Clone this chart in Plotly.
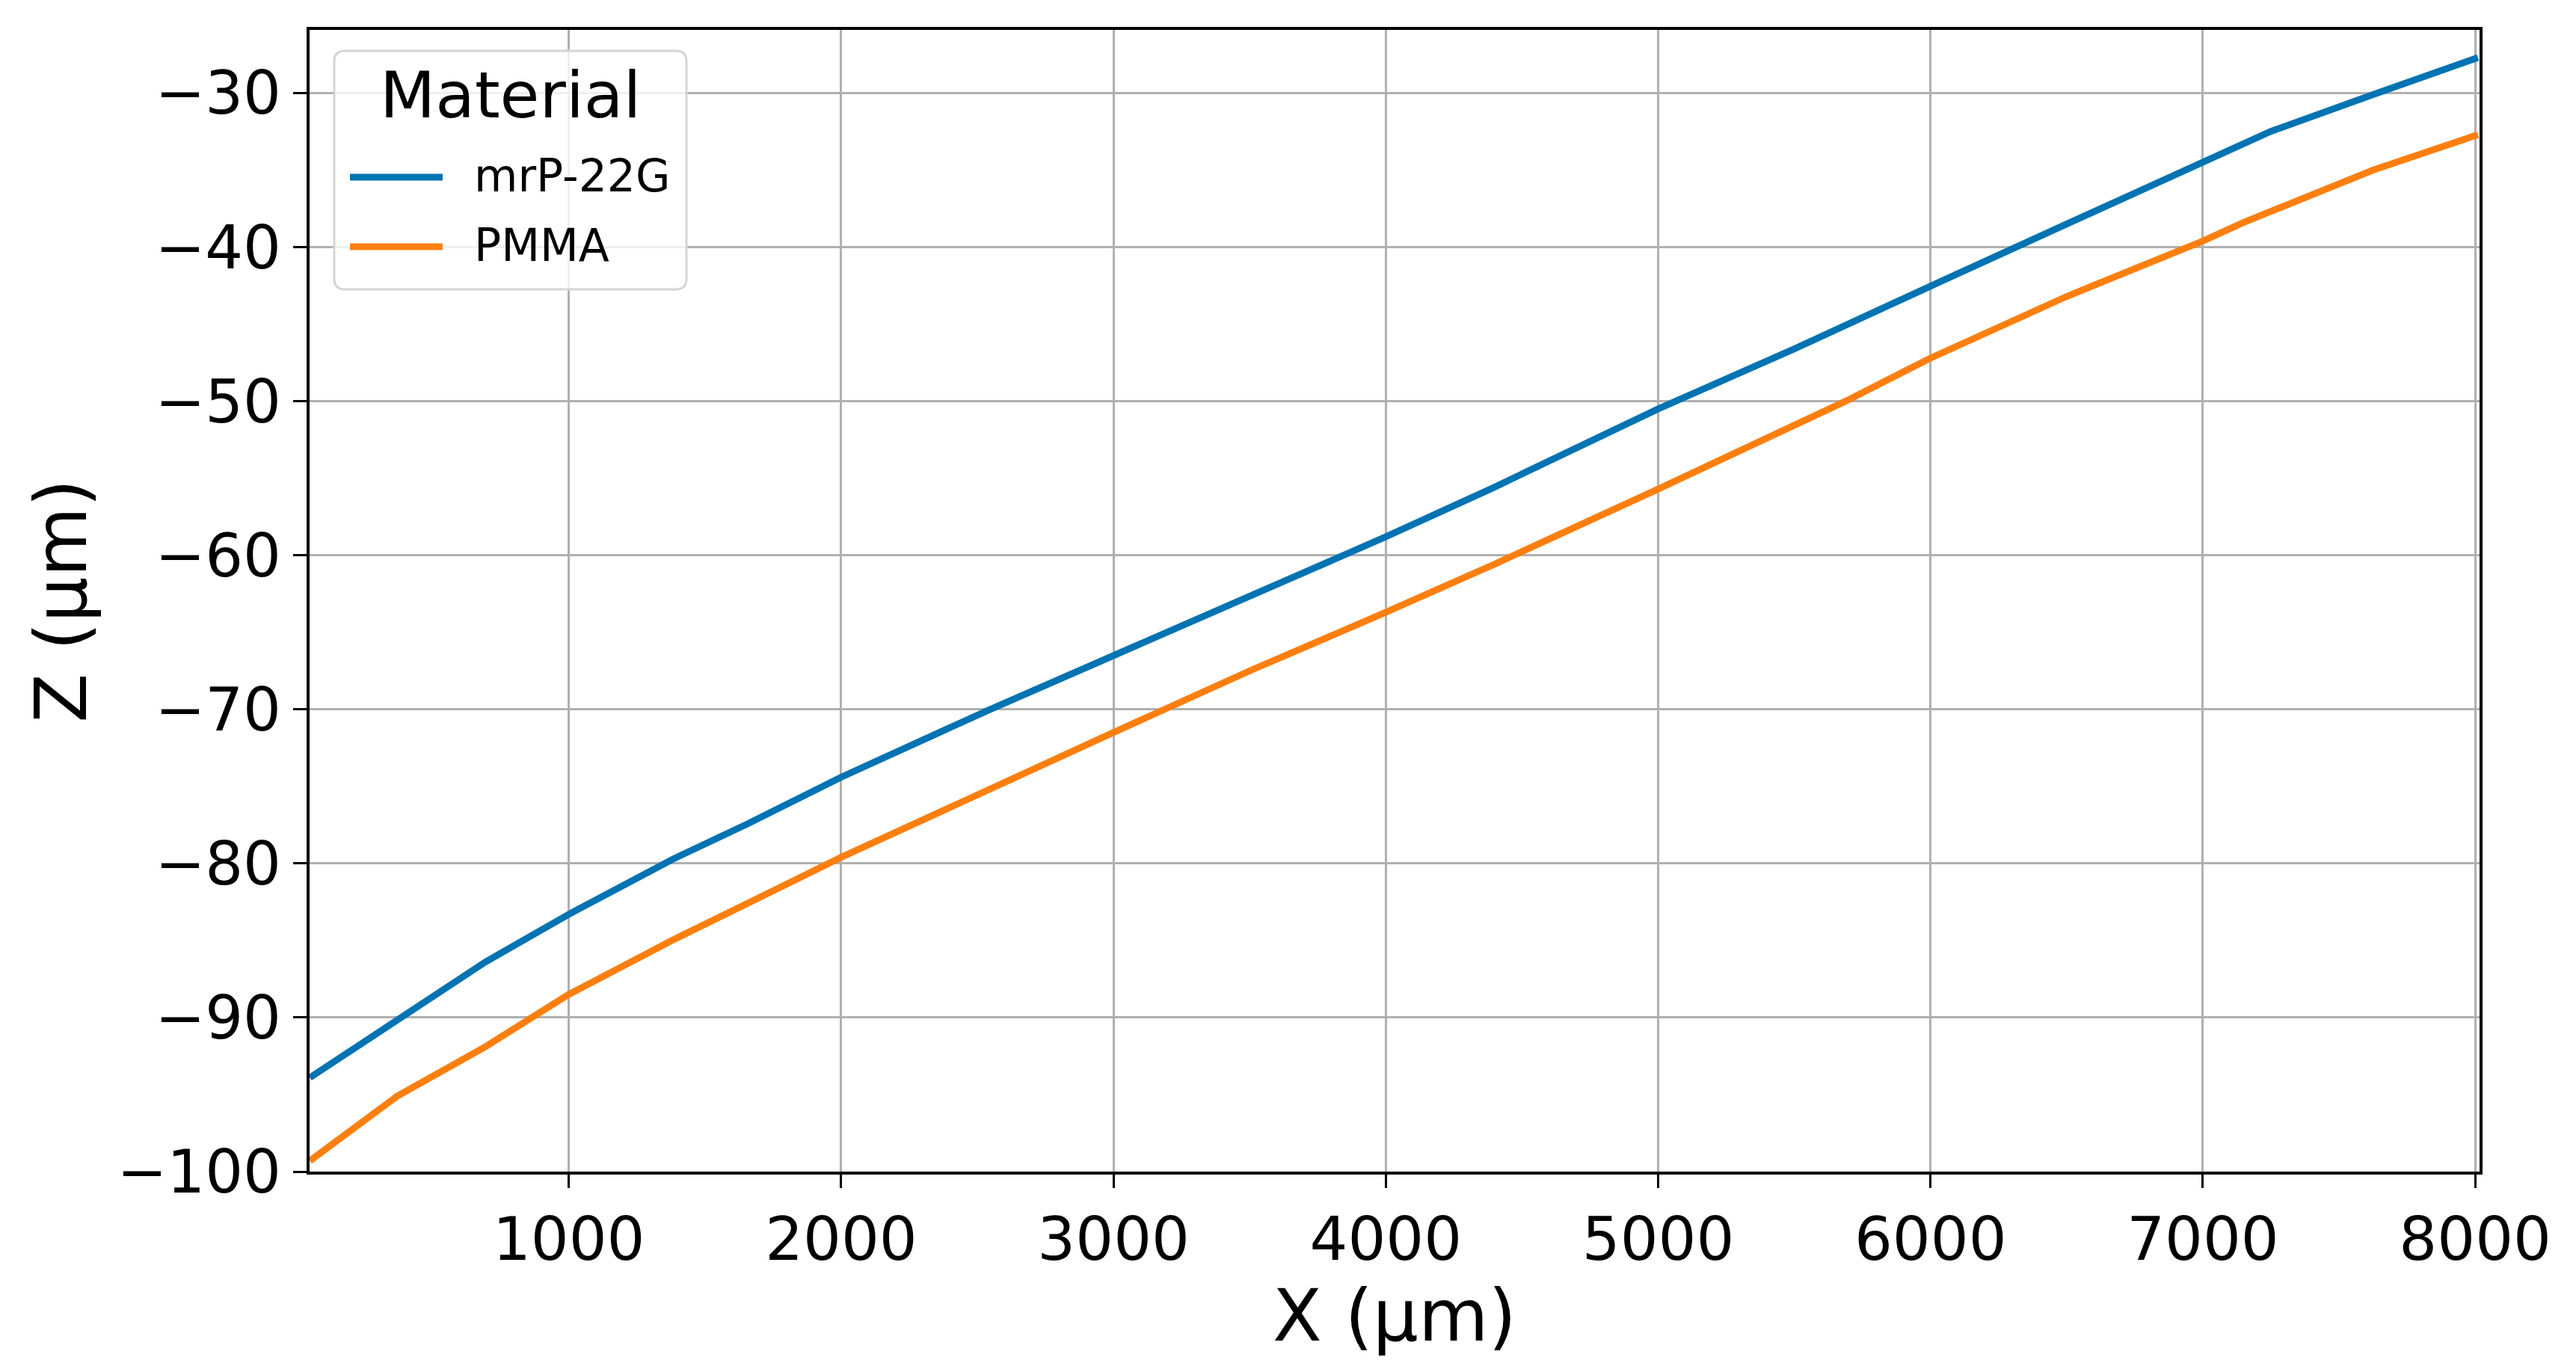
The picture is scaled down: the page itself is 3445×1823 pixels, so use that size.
import plotly.graph_objects as go

# Data (X in µm, Z in µm)
x_mrp = [49, 370, 693, 1000, 1384, 1660, 2000, 2547, 3000, 3317, 3500, 4000,
         4396, 5000, 5500, 5896, 6041, 6500, 7000, 7248, 7625, 8010]
z_mrp = [-93.9, -90.1, -86.4, -83.3, -79.7, -77.4, -74.4, -70.0, -66.5, -64.1, -62.6, -58.8,
         -55.6, -50.5, -46.6, -43.3, -42.2, -38.5, -34.5, -32.5, -30.1, -27.7]

x_pmma = [49, 370, 693, 867, 1000, 1384, 1660, 2000, 3000, 3317, 3500, 4000,
          4396, 5000, 5688, 6000, 6500, 7000, 7149, 7625, 8010]
z_pmma = [-99.3, -95.1, -91.9, -90.0, -88.5, -84.95, -82.6, -79.6, -71.5, -69.0, -67.5, -63.7,
          -60.6, -55.7, -50.0, -47.2, -43.2, -39.6, -38.4, -35.0, -32.7]

series_names = ["mrP-22G", "PMMA"]
series_colors = ["#0173b2", "#ff7f0e"]
legend_title = "Material"

x_ticks = [1000, 2000, 3000, 4000, 5000, 6000, 7000, 8000]
y_ticks = [-100, -90, -80, -70, -60, -50, -40, -30]

FONT = "DejaVu Sans"
LINE_W = 9

fig = go.Figure()
for xs, zs, name, col in [(x_mrp, z_mrp, series_names[0], series_colors[0]),
                          (x_pmma, z_pmma, series_names[1], series_colors[1])]:
    fig.add_trace(go.Scatter(x=xs, y=zs, mode="lines", name=name,
                             line=dict(color=col, width=LINE_W), showlegend=False))

axis_common = dict(
    showline=True, linecolor="black", linewidth=4, mirror=True,
    showgrid=True, gridcolor="#b0b0b0", gridwidth=3,
    ticks="outside", ticklen=18, tickwidth=3, tickcolor="black",
    tickfont=dict(family=FONT, size=80, color="black"),
    zeroline=False,
)

fig.update_xaxes(range=[48, 8016], tickvals=x_ticks,
                 title=dict(text="X (µm)", font=dict(family=FONT, size=96, color="black"), standoff=9),
                 **axis_common)
fig.update_yaxes(range=[-100, -25.9], tickvals=y_ticks,
                 title=dict(text="Z (µm)", font=dict(family=FONT, size=96, color="black"), standoff=10),
                 **axis_common)

# ---- legend box (matplotlib style: rounded, semi-transparent, upper left) ----
PL, PR, PT, PB = 414, 3316, 40, 1567  # plot area in page pixels
def px(xp):
    return (xp - PL) / (PR - PL)
def py(yp):
    return (PB - yp) / (PB - PT)

bx0, bx1, by0, by1 = 447, 918, 68, 387
r = 14
rx, ry = r / (PR - PL), r / (PB - PT)
X0, X1, Y0, Y1 = px(bx0), px(bx1), py(by1), py(by0)
path = (f"M {X0+rx},{Y1} L {X1-rx},{Y1} Q {X1},{Y1} {X1},{Y1-ry} "
        f"L {X1},{Y0+ry} Q {X1},{Y0} {X1-rx},{Y0} "
        f"L {X0+rx},{Y0} Q {X0},{Y0} {X0},{Y0+ry} "
        f"L {X0},{Y1-ry} Q {X0},{Y1} {X0+rx},{Y1} Z")
shapes = [dict(type="path", path=path, xref="paper", yref="paper",
               fillcolor="rgba(255,255,255,0.8)", line=dict(color="#d5d5d5", width=3), layer="above")]
annotations = [dict(text=legend_title, x=px(682), y=py(127), xref="paper", yref="paper",
                    xanchor="center", yanchor="middle", showarrow=False,
                    font=dict(family=FONT, size=86, color="black"))]
entry_y = [237, 330]
for name, col, ey in zip(series_names, series_colors, entry_y):
    shapes.append(dict(type="line", xref="paper", yref="paper",
                       x0=px(468), x1=px(592), y0=py(ey), y1=py(ey),
                       line=dict(color=col, width=LINE_W), layer="above"))
    annotations.append(dict(text=name, x=px(632), y=py(ey - 2), xref="paper", yref="paper",
                            xanchor="left", yanchor="middle", showarrow=False,
                            font=dict(family=FONT, size=60, color="black")))

fig.update_layout(
    width=3445, height=1823,
    margin=dict(l=PL, r=3445 - PR, t=PT, b=1823 - PB),
    paper_bgcolor="white", plot_bgcolor="white",
    font=dict(family=FONT, color="black"),
    showlegend=False,
    shapes=shapes,
    annotations=annotations,
)

fig.write_html("out.html")
